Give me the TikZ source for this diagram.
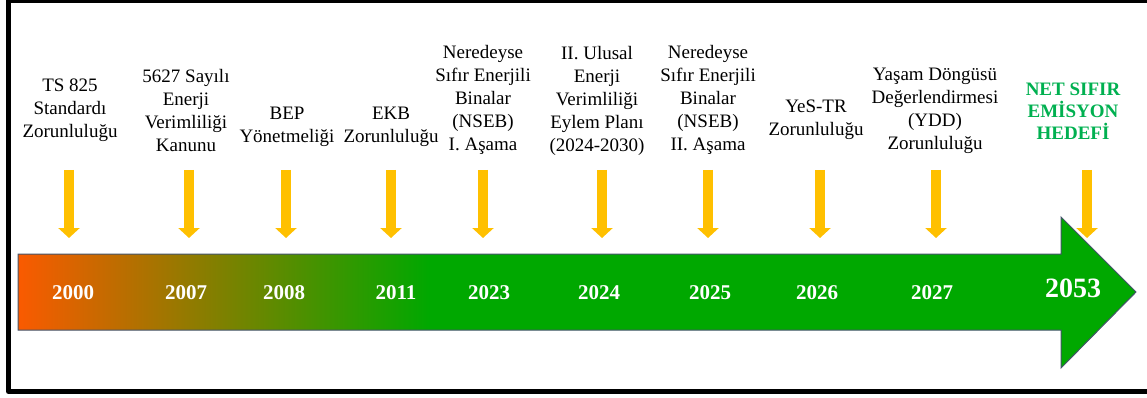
\documentclass[tikz,border=0pt]{standalone}
\usepackage{fontspec}
\setmainfont{Liberation Serif}
\usepackage{tikz}
\usetikzlibrary{calc}
\usetikzlibrary{arrows.meta, positioning}
\tikzset{>=stealth}
\definecolor{barorange}{RGB}{250,90,0}
\definecolor{bargreen}{RGB}{0,168,0}
\definecolor{baredge}{RGB}{68,84,106}
\definecolor{pinyellow}{RGB}{255,192,0}
\definecolor{goalgreen}{RGB}{0,176,80}
\pgfdeclarehorizontalshading{timeline}{100bp}{color(0bp)=(barorange); color(25bp)=(barorange); color(43.4bp)=(bargreen); color(100bp)=(bargreen)}
\tikzset{
  milestone/.style={anchor=north, inner sep=0pt, align=center, font=\fontsize{19}{23}\selectfont},
  goal/.style={milestone, text=goalgreen, font=\fontsize{19}{22}\selectfont\bfseries},
  yeartext/.style={anchor=base, inner sep=0pt, text=white, font=\fontsize{21}{25}\selectfont\bfseries},
  pointer/.style={pinyellow, line width=10pt, -{Triangle[width=21pt,length=10pt]}}
}

\begin{document}
\begin{tikzpicture}[x=1pt,y=-1pt]
  \useasboundingbox (0,0) rectangle (1147,398);
  \clip (0,0) rectangle (1147,398);
  % frame, open on the right
  \draw[line width=5pt, line join=round] (1160,0.5) -- (8.5,0.5) -- (8.5,391.5) -- (1160,391.5);
  % timeline bar
  \path[draw=baredge, line width=1pt, shading=timeline] (18,254) -- (1061,254) -- (1061,217) -- (1136,292) -- (1061,368) -- (1061,330) -- (18,330) -- cycle;
  % milestones
  \node[milestone] (m2000) at (70,79) {TS 825\\Standardı\\Zorunluluğu};
  \node[milestone] (m2007) at (186,69) {5627 Sayılı\\Enerji\\Verimliliği\\Kanunu};
  \node[milestone] (m2008) at (287,107) {BEP\\Yönetmeliği};
  \node[milestone] (m2011) at (391,107) {EKB\\Zorunluluğu};
  \node[milestone] (m2023) at (483,45) {Neredeyse\\Sıfır Enerjili\\Binalar\\(NSEB)\\I. Aşama};
  \node[milestone] (m2024) at (597,46) {II. Ulusal\\Enerji\\Verimliliği\\Eylem Planı\\(2024-2030)};
  \node[milestone] (m2025) at (708,45) {Neredeyse\\Sıfır Enerjili\\Binalar\\(NSEB)\\II. Aşama};
  \node[milestone] (m2026) at (816,100) {YeS-TR\\Zorunluluğu};
  \node[milestone] (m2027) at (935,68) {Yaşam Döngüsü\\Değerlendirmesi\\(YDD)\\Zorunluluğu};
  \node[goal] (m2053) at (1073,83) {NET SIFIR\\EMİSYON\\HEDEFİ};
  % yellow pointers
  \coordinate (t2000) at (69,170);   \coordinate (h2000) at (69,238);
  \coordinate (t2007) at (189,170);  \coordinate (h2007) at (189,238);
  \coordinate (t2008) at (286,170);  \coordinate (h2008) at (286,238);
  \coordinate (t2011) at (391,170);  \coordinate (h2011) at (391,238);
  \coordinate (t2023) at (483,170);  \coordinate (h2023) at (483,238);
  \coordinate (t2024) at (602,170);  \coordinate (h2024) at (602,238);
  \coordinate (t2025) at (708,170);  \coordinate (h2025) at (708,238);
  \coordinate (t2026) at (820,170);  \coordinate (h2026) at (820,238);
  \coordinate (t2027) at (936,170);  \coordinate (h2027) at (936,238);
  \coordinate (t2053) at (1087,170); \coordinate (h2053) at (1087,238);
  \draw[pointer] (t2000) -- (h2000);
  \draw[pointer] (t2007) -- (h2007);
  \draw[pointer] (t2008) -- (h2008);
  \draw[pointer] (t2011) -- (h2011);
  \draw[pointer] (t2023) -- (h2023);
  \draw[pointer] (t2024) -- (h2024);
  \draw[pointer] (t2025) -- (h2025);
  \draw[pointer] (t2026) -- (h2026);
  \draw[pointer] (t2027) -- (h2027);
  \draw[pointer] (t2053) -- (h2053);
  % years
  \node[yeartext] (y2000) at (73,299) {2000};
  \node[yeartext] (y2007) at (186,299) {2007};
  \node[yeartext] (y2008) at (284,299) {2008};
  \node[yeartext] (y2011) at (396,299) {2011};
  \node[yeartext] (y2023) at (489,299) {2023};
  \node[yeartext] (y2024) at (599,299) {2024};
  \node[yeartext] (y2025) at (710,299) {2025};
  \node[yeartext] (y2026) at (817,299) {2026};
  \node[yeartext] (y2027) at (932,299) {2027};
  \node[yeartext, font=\fontsize{28}{32}\selectfont\bfseries] (y2053) at (1073,297) {2053};
\end{tikzpicture}
\end{document}
